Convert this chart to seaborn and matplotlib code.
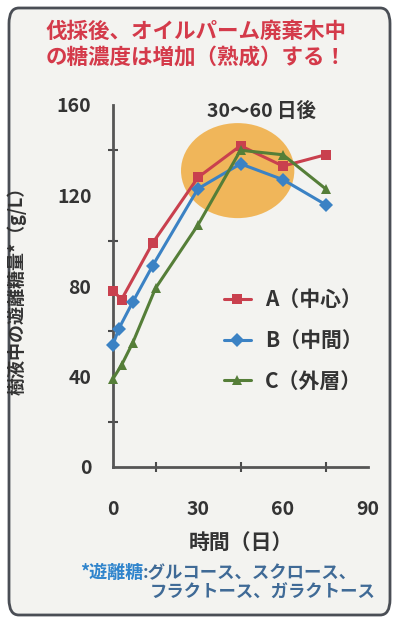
import numpy as np
import pandas as pd
import matplotlib
matplotlib.use('Agg')
import matplotlib.pyplot as plt
import seaborn as sns
from matplotlib.patches import Ellipse, FancyBboxPatch
from matplotlib.ticker import FixedLocator

# ---- data ----
series_labels = ['A（中心）', 'B（中間）', 'C（外層）']
days_a = [0, 3, 14, 30, 45, 60, 75]
sugar_a = [78, 74, 99, 128, 142, 133, 138]
days_b = [0, 2, 7, 14, 30, 45, 60, 75]
sugar_b = [54, 61, 73, 89, 123, 134, 127, 116]
days_c = [0, 3, 7, 15, 30, 45, 60, 75]
sugar_c = [39, 45, 55, 79, 107, 140, 138, 123]
x_ticks = [0, 30, 60, 90]
x_minor = [15, 45, 75]
y_ticks = [0, 40, 80, 120, 160]
y_minor = [20, 60, 100, 140]

title = '伐採後、オイルパーム廃棄木中\nの糖濃度は増加（熟成）する！'
ylabel = '樹液中の遊離糖量*（g/L）'
xlabel = '時間（日）'
note_key = '*遊離糖'
note_rest1 = ':グルコース、スクロース、'
note_rest2 = 'フラクトース、ガラクトース'
annot = '30～60 日後'

colors = {series_labels[0]: '#C9404E', series_labels[1]: '#3B82C4', series_labels[2]: '#557E38'}
markers = {series_labels[0]: 's', series_labels[1]: 'D', series_labels[2]: '^'}

df = pd.concat([
    pd.DataFrame({'day': days_a, 'sugar': sugar_a, 'series': series_labels[0]}),
    pd.DataFrame({'day': days_b, 'sugar': sugar_b, 'series': series_labels[1]}),
    pd.DataFrame({'day': days_c, 'sugar': sugar_c, 'series': series_labels[2]}),
], ignore_index=True)

sns.set_theme(style='white')
plt.rcParams['font.family'] = ['Noto Sans CJK JP', 'DejaVu Sans']

W, H = 393, 623
fig = plt.figure(figsize=(W / 100, H / 100), dpi=100)
fig.patch.set_facecolor('#FFFFFF')

# rounded frame
frame = FancyBboxPatch((9 / W, 8 / H), (W - 12) / W, (H - 16) / H,
                       boxstyle='round,pad=0,rounding_size=0.025',
                       transform=fig.transFigure, facecolor='#F3F3F0',
                       edgecolor='#4A4E55', linewidth=2, zorder=-5)
fig.patches.append(frame)

ax = fig.add_axes([113 / W, 1 - 467 / H, 255 / W, 362 / H])
ax.set_facecolor('none')
ax.patch.set_alpha(0)

# highlight ellipse
ax.add_patch(Ellipse((44, 131), 40, 42, facecolor='#F0B04A', edgecolor='none',
                     alpha=0.9, zorder=1))

sns.lineplot(data=df, x='day', y='sugar', hue='series', style='series',
             palette=colors, markers=markers, dashes=False, ax=ax,
             linewidth=2.2, markersize=7.5, markeredgewidth=0, zorder=3,
             clip_on=False)

ax.set_xlim(0, 90)
ax.set_ylim(0, 160)
ax.xaxis.set_major_locator(FixedLocator(x_ticks))
ax.xaxis.set_minor_locator(FixedLocator(x_minor))
ax.yaxis.set_major_locator(FixedLocator(y_ticks))
ax.yaxis.set_minor_locator(FixedLocator(y_minor))
ax.tick_params(axis='both', which='both', direction='inout', length=7, width=1.5,
               color='#4A4A4A')
ax.tick_params(axis='x', which='major', pad=20, labelsize=14)
ax.tick_params(axis='y', which='major', pad=12, labelsize=14)
ax.tick_params(which='minor', bottom=True, left=True)
for lab in ax.get_xticklabels() + ax.get_yticklabels():
    lab.set_fontweight('bold')
    lab.set_color('#333333')

for s in ['top', 'right']:
    ax.spines[s].set_visible(False)
for s in ['left', 'bottom']:
    ax.spines[s].set_color('#555555')
    ax.spines[s].set_linewidth(2)

ax.set_xlabel('')
ax.set_ylabel(ylabel, fontsize=13, fontweight='bold', color='#333333')
ax.yaxis.set_label_coords(-86 / 255, 0.5)

handles, labels = ax.get_legend_handles_labels()
leg = ax.legend(handles, labels, loc='upper left', bbox_to_anchor=(0.36, 0.543),
                frameon=False, labelspacing=0.95, handlelength=1.3,
                handletextpad=0.7, borderpad=0.4,
                prop={'weight': 'bold', 'size': 15})
for t in leg.get_texts():
    t.set_color('#333333')

ax.text(52.5, 157, annot, ha='center', va='center', fontsize=14,
        fontweight='bold', color='#333333')

# title
fig.text(196 / W, 1 - 44 / H, title, ha='center', va='center', fontsize=15.5,
         fontweight='bold', color='#D43A4A', linespacing=1.3)

# x label & footnote
fig.text(241 / W, 1 - 542 / H, xlabel, ha='center', va='center', fontsize=15,
         fontweight='bold', color='#333333')
fig.text(143 / W, 1 - 573 / H, note_key, ha='right', va='center', fontsize=13,
         fontweight='bold', color='#2F84CC')
fig.text(143 / W, 1 - 573 / H, note_rest1, ha='left', va='center', fontsize=12.5,
         fontweight='bold', color='#3F6A96')
fig.text(150 / W, 1 - 593 / H, note_rest2, ha='left', va='center', fontsize=12.5,
         fontweight='bold', color='#3F6A96')

fig.savefig('out.png', dpi=100)
